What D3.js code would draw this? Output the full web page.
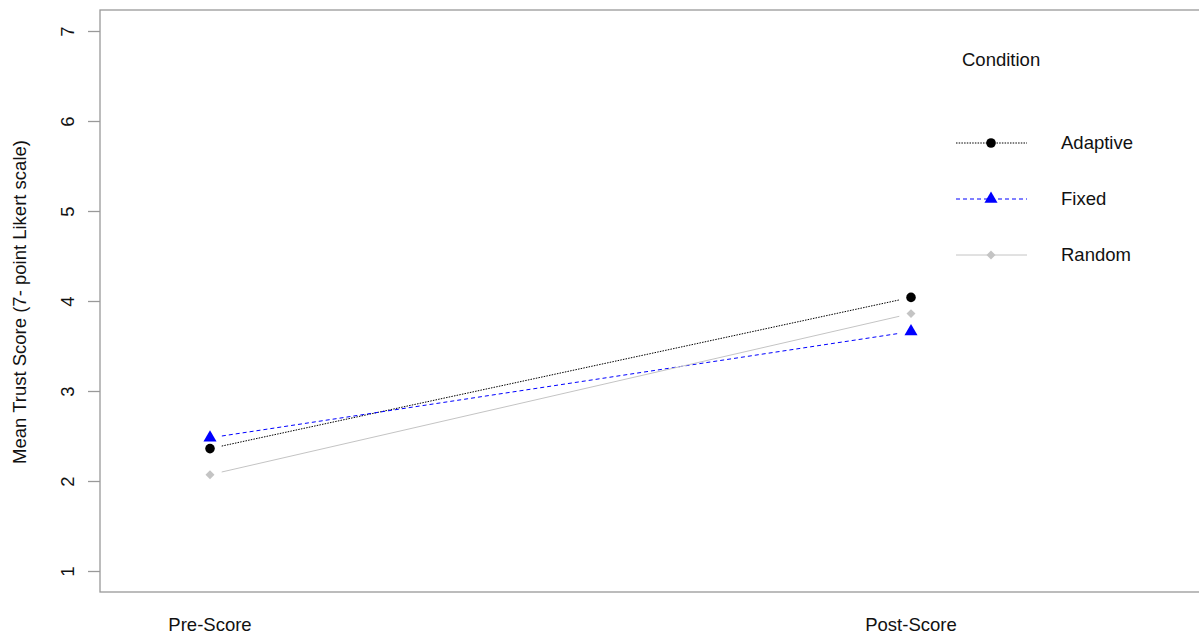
<!DOCTYPE html>
<html>
<head>
<meta charset="utf-8">
<script src="https://cdn.jsdelivr.net/npm/d3@7"></script>
<style>
  body { margin: 0; background: #fff; }
  text { font-family: "Liberation Sans", Arial, sans-serif; fill: #111; }
</style>
</head>
<body>
<div id="main"></div>
<script>
var ctx = {
    w: 1199,
    h: 634,
    left: 100,
    top: 10,
    right: 1199,
    bottom: 592,
    fontSize: "18.5px",
};

// data
var phases = ["Pre-Score", "Post-Score"];
var conditions = ["Adaptive", "Fixed", "Random"];
var adaptive = [2.36, 4.04];
var fixed = [2.48, 3.66];
var random = [2.07, 3.86];
var yTicks = [1, 2, 3, 4, 5, 6, 7];

var styles = {
    Adaptive: {color: "#000", dash: "1.5,1.2", shape: d3.symbolCircle, size: 72, rot: 0},
    Fixed:    {color: "#0000ff", dash: "4,3", shape: d3.symbolTriangle, size: 74, rot: 0},
    Random:   {color: "#c4c4c4", dash: null, shape: d3.symbolSquare, size: 40, rot: 45},
};

var createViz = function(){
    var svg = d3.select("#main").append("svg")
        .attr("width", ctx.w).attr("height", ctx.h);

    var x = d3.scalePoint().domain(phases).range([210, 911]);
    var y = d3.scaleLinear().domain([1, 7]).range([571, 31]);

    // plot box
    svg.append("rect")
        .attr("x", ctx.left).attr("y", ctx.top)
        .attr("width", ctx.right - ctx.left + 5).attr("height", ctx.bottom - ctx.top)
        .attr("fill", "none").attr("stroke", "#999").attr("stroke-width", 1.3);

    // y axis
    var yAxis = svg.append("g")
        .attr("transform", "translate(" + ctx.left + ",0)")
        .call(d3.axisLeft(y).tickValues(yTicks).tickSize(12).tickPadding(0).tickFormat(d3.format("d")));
    yAxis.select(".domain").remove();
    yAxis.selectAll("line").attr("stroke", "#999").attr("stroke-width", 1.3);
    yAxis.selectAll("text")
        .attr("x", 0).attr("y", 0).attr("dy", "0.35em")
        .attr("transform", "translate(-32,0) rotate(-90)")
        .attr("text-anchor", "middle")
        .style("font-size", ctx.fontSize).style("font-family", "Liberation Sans, Arial, sans-serif")
        .attr("fill", "#111");

    svg.append("text")
        .attr("transform", "translate(26,302) rotate(-90)")
        .attr("text-anchor", "middle")
        .style("font-size", ctx.fontSize)
        .text("Mean Trust Score (7- point Likert scale)");

    // x labels
    svg.selectAll(".xlab").data(phases).enter().append("text")
        .attr("class", "xlab")
        .attr("x", d => x(d)).attr("y", 631)
        .attr("text-anchor", "middle")
        .style("font-size", ctx.fontSize)
        .text(d => d);

    var series = [
        {name: "Adaptive", values: adaptive},
        {name: "Fixed", values: fixed},
        {name: "Random", values: random},
    ];

    var gap = 12;
    series.forEach(function(s){
        var st = styles[s.name];
        var g = svg.append("g");
        var x0 = x(phases[0]), y0 = y(s.values[0]);
        var x1 = x(phases[1]), y1 = y(s.values[1]);
        var len = Math.hypot(x1 - x0, y1 - y0);
        var ux = (x1 - x0) / len, uy = (y1 - y0) / len;
        g.append("line")
            .attr("x1", x0 + ux * gap).attr("y1", y0 + uy * gap)
            .attr("x2", x1 - ux * gap).attr("y2", y1 - uy * gap)
            .attr("stroke", st.color).attr("stroke-width", 1)
            .attr("stroke-dasharray", st.dash);
        g.selectAll("path").data(s.values).enter().append("path")
            .attr("d", d3.symbol().type(st.shape).size(st.size))
            .attr("transform", (d, i) => "translate(" + x(phases[i]) + "," + y(d) + ") rotate(" + st.rot + ")")
            .attr("fill", st.color);
    });

    // legend
    var leg = svg.append("g");
    leg.append("text").attr("x", 962).attr("y", 66)
        .style("font-size", ctx.fontSize).text("Condition");
    var ly = d3.scalePoint().domain(conditions).range([143, 255]);
    conditions.forEach(function(c){
        var st = styles[c];
        leg.append("line")
            .attr("x1", 956).attr("x2", 1027)
            .attr("y1", ly(c)).attr("y2", ly(c))
            .attr("stroke", st.color).attr("stroke-width", 1)
            .attr("stroke-dasharray", st.dash);
        leg.append("path")
            .attr("d", d3.symbol().type(st.shape).size(st.size))
            .attr("transform", "translate(991," + ly(c) + ") rotate(" + st.rot + ")")
            .attr("fill", st.color);
        leg.append("text").attr("x", 1061).attr("y", ly(c)).attr("dy", "0.35em")
            .style("font-size", ctx.fontSize).text(c);
    });
};

createViz();
</script>
</body>
</html>
